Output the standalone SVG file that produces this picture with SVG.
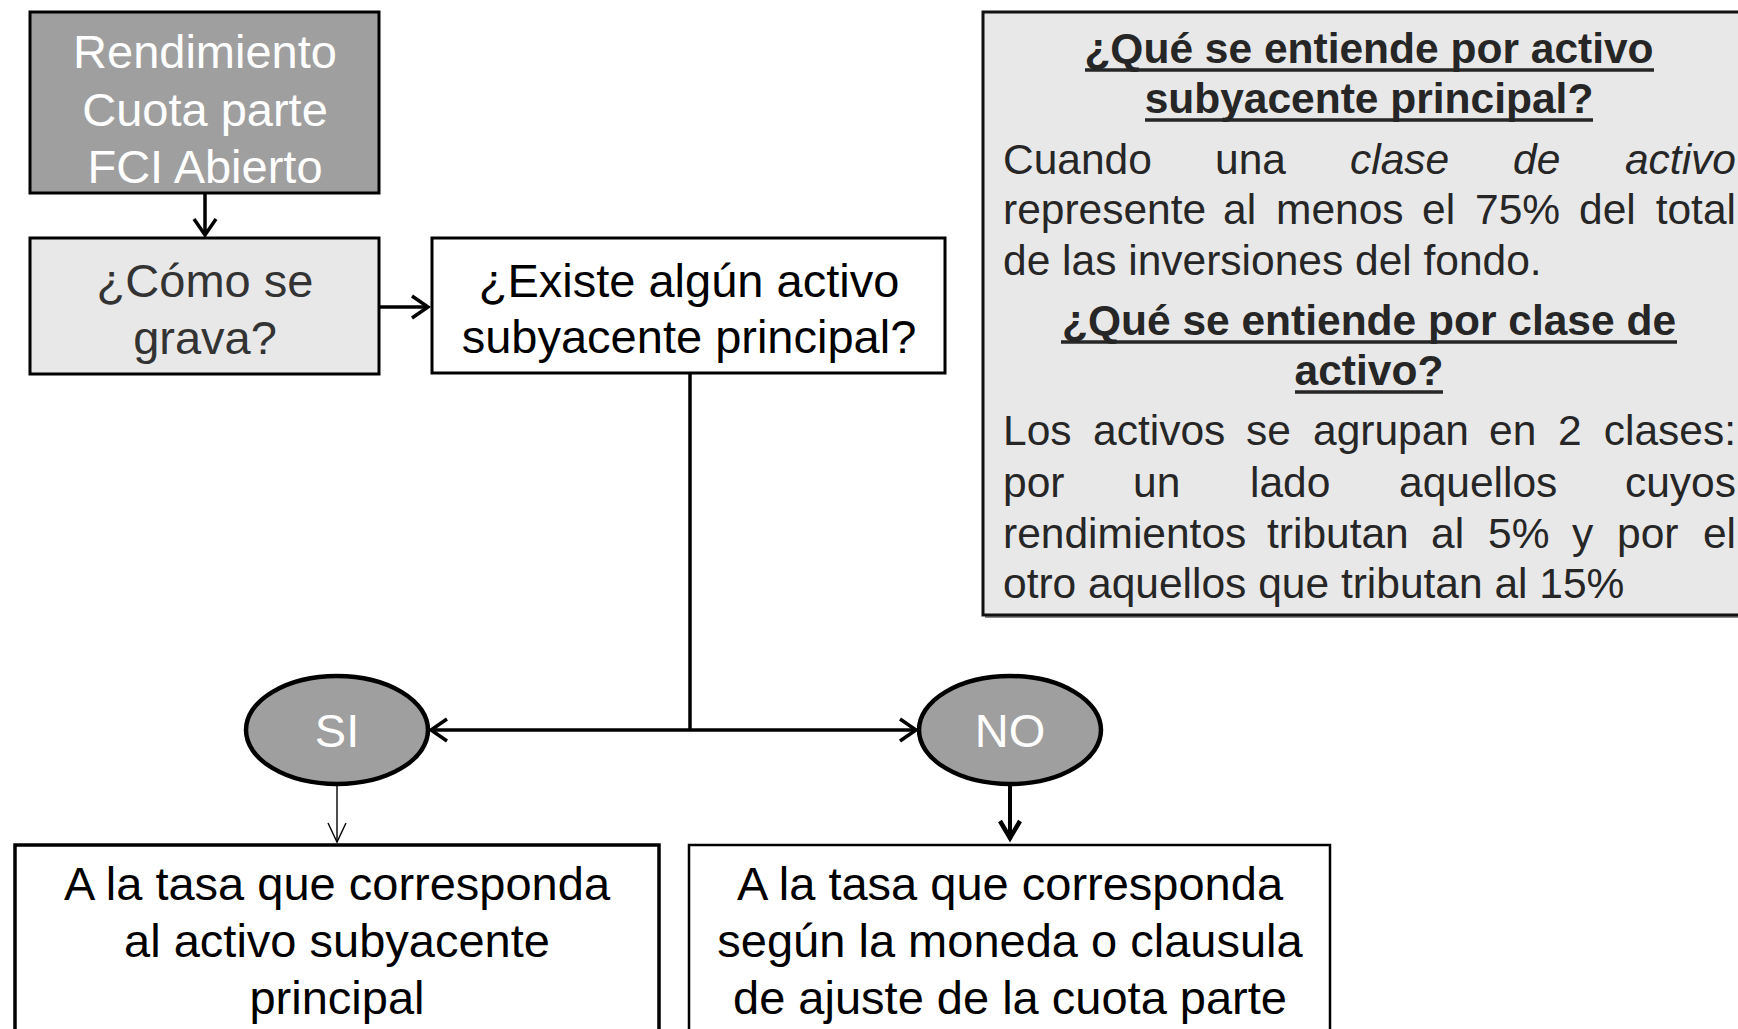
<svg xmlns="http://www.w3.org/2000/svg" width="1738" height="1029" viewBox="0 0 1738 1029">
<style>
text{font-family:"Liberation Sans",Arial,Helvetica,sans-serif}
.fc{font-size:47px;text-anchor:middle}
.w{fill:#fff}
.d{fill:#333}
.k{fill:#000}
.box{stroke:#000;stroke-width:3}
.info{font-size:42.5px;fill:#262626}
.ttl{font-weight:bold;text-anchor:middle}
.ul{stroke:#262626;stroke-width:3.5}
.it{font-style:italic}
.e{text-anchor:end}
.ln{stroke:#000;stroke-width:3.5;fill:none}
</style>
<defs>
<marker id="ah" markerUnits="userSpaceOnUse" markerWidth="40" markerHeight="40" viewBox="0 0 40 40" refX="20" refY="20" orient="auto">
<path d="M4,9 L20,20 L4,31" fill="none" stroke="#000" stroke-width="3.5" stroke-linejoin="miter"/>
</marker>
<marker id="ahThin" markerUnits="userSpaceOnUse" markerWidth="40" markerHeight="40" viewBox="0 0 40 40" refX="20" refY="20" orient="auto">
<path d="M1,11 L20,20 L1,29" fill="none" stroke="#000" stroke-width="1.4"/>
</marker>
<marker id="ahBold" markerUnits="userSpaceOnUse" markerWidth="40" markerHeight="40" viewBox="0 0 40 40" refX="20" refY="20" orient="auto">
<path d="M2,10 L19,20 L2,30" fill="none" stroke="#000" stroke-width="4.5" stroke-linejoin="miter"/>
</marker>
</defs>

<g id="connectors">
<line class="ln" x1="205" y1="194" x2="205" y2="235" marker-end="url(#ah)"/>
<line class="ln" x1="380" y1="307" x2="428" y2="307" marker-end="url(#ah)"/>
<polyline class="ln" points="690,374 690,730"/>
<line class="ln" x1="690" y1="730" x2="431" y2="730" marker-end="url(#ah)"/>
<line class="ln" x1="690" y1="730" x2="916" y2="730" marker-end="url(#ah)"/>
<line x1="337" y1="785" x2="337" y2="842" stroke="#000" stroke-width="1.4" marker-end="url(#ahThin)"/>
<line x1="1010" y1="785" x2="1010" y2="839" stroke="#000" stroke-width="4" marker-end="url(#ahBold)"/>
</g>

<g id="n-rendimiento">
<rect class="box" x="30" y="12" width="349" height="181" fill="#9f9f9f"/>
<text class="fc w" x="205" y="68">Rendimiento</text>
<text class="fc w" x="205" y="126">Cuota parte</text>
<text class="fc w" x="205" y="183">FCI Abierto</text>
</g>

<g id="n-como">
<rect class="box" x="30" y="238" width="349" height="136" fill="#e8e8e8"/>
<text class="fc d" x="205" y="297">¿Cómo se</text>
<text class="fc d" x="205" y="354">grava?</text>
</g>

<g id="n-existe">
<rect class="box" x="432" y="238" width="513" height="135" fill="#fff"/>
<text class="fc k" x="689" y="297">¿Existe algún activo</text>
<text class="fc k" x="689" y="353">subyacente principal?</text>
</g>

<g id="n-si">
<ellipse cx="337" cy="730" rx="91" ry="54" fill="#9f9f9f" stroke="#000" stroke-width="4.5"/>
<text class="fc w" x="337" y="747">SI</text>
</g>

<g id="n-no">
<ellipse cx="1010" cy="730" rx="91" ry="54" fill="#9f9f9f" stroke="#000" stroke-width="4.5"/>
<text class="fc w" x="1010" y="747">NO</text>
</g>

<g id="n-si-result">
<rect x="15" y="845" width="644" height="200" fill="#fff" stroke="#000" stroke-width="3.5"/>
<text class="fc k" x="337" y="900">A la tasa que corresponda</text>
<text class="fc k" x="337" y="957">al activo subyacente</text>
<text class="fc k" x="337" y="1014">principal</text>
</g>

<g id="n-no-result">
<rect x="689" y="845" width="641" height="200" fill="#fff" stroke="#000" stroke-width="2.5"/>
<text class="fc k" x="1010" y="900">A la tasa que corresponda</text>
<text class="fc k" x="1010" y="957">según la moneda o clausula</text>
<text class="fc k" x="1010" y="1014">de ajuste de la cuota parte</text>
</g>

<g id="n-info">
<rect x="985" y="15" width="780" height="603" fill="#8a8a8a"/>
<rect x="983" y="12" width="780" height="603" fill="#e8e8e8" stroke="#111" stroke-width="3"/>
<text class="info ttl" x="1369" y="63">¿Qué se entiende por activo</text>
<line class="ul" x1="1085" y1="70" x2="1654" y2="70"/>
<text class="info ttl" x="1369" y="113">subyacente principal?</text>
<line class="ul" x1="1145" y1="120" x2="1593" y2="120"/>
<text class="info" y="174"><tspan x="1003">Cuando</tspan><tspan x="1215">una</tspan><tspan class="it" x="1350">clase</tspan><tspan class="it" x="1513">de</tspan><tspan class="it e" x="1736">activo</tspan></text>
<text class="info" y="224"><tspan x="1003">represente</tspan><tspan x="1223">al</tspan><tspan x="1276">menos</tspan><tspan x="1422">el</tspan><tspan x="1475">75%</tspan><tspan x="1579">del</tspan><tspan class="e" x="1736">total</tspan></text>
<text class="info" x="1003" y="275">de las inversiones del fondo.</text>
<text class="info ttl" x="1369" y="335">¿Qué se entiende por clase de</text>
<line class="ul" x1="1061" y1="342" x2="1677" y2="342"/>
<text class="info ttl" x="1369" y="385">activo?</text>
<line class="ul" x1="1295" y1="392" x2="1443" y2="392"/>
<text class="info" y="445"><tspan x="1003">Los</tspan><tspan x="1093">activos</tspan><tspan x="1246">se</tspan><tspan x="1313">agrupan</tspan><tspan x="1489">en</tspan><tspan x="1558">2</tspan><tspan class="e" x="1736">clases:</tspan></text>
<text class="info" y="497"><tspan x="1003">por</tspan><tspan x="1133">un</tspan><tspan x="1250">lado</tspan><tspan x="1399">aquellos</tspan><tspan class="e" x="1736">cuyos</tspan></text>
<text class="info" y="548"><tspan x="1003">rendimientos</tspan><tspan x="1267">tributan</tspan><tspan x="1431">al</tspan><tspan x="1488">5%</tspan><tspan x="1572">y</tspan><tspan x="1617">por</tspan><tspan class="e" x="1736">el</tspan></text>
<text class="info" x="1003" y="598">otro aquellos que tributan al 15%</text>
</g>
</svg>
